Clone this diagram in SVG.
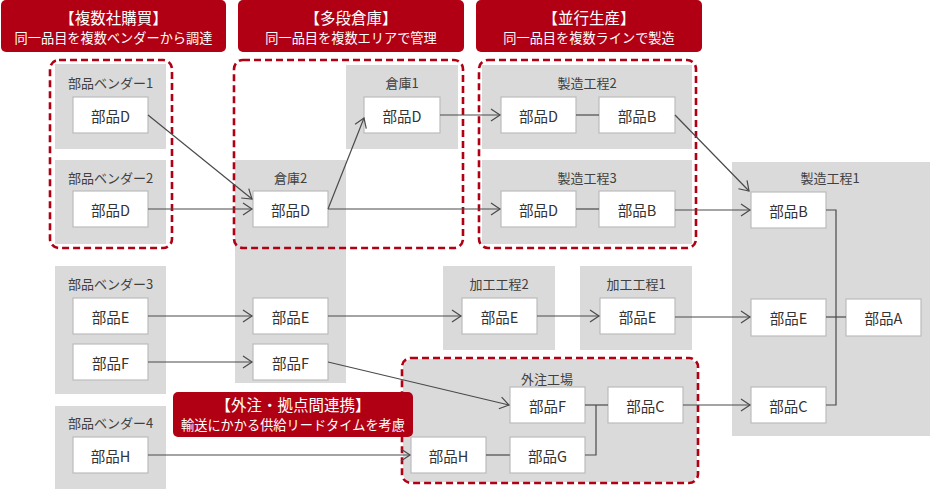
<svg xmlns="http://www.w3.org/2000/svg" width="930" height="489" viewBox="0 0 930 489">
<style>
text{font-family:"Noto Sans CJK JP","Noto Sans",sans-serif;dominant-baseline:central;text-anchor:middle}
.grp{fill:#dadada}
.box{fill:#ffffff;stroke:#bcbcbc;stroke-width:1.2}
.lbl{font-size:14.5px;fill:#333333}
.ttl{font-size:13px;fill:#404040}
.dash{fill:none;stroke:#b10013;stroke-width:2.6;stroke-dasharray:7 4}
.call{fill:#b10013}
.c1{font-size:15.5px;fill:#ffffff}
.c2{font-size:13.2px;fill:#ffffff}
.ln{fill:none;stroke:#4a4a4a;stroke-width:1.2}
.ar{marker-end:url(#arr)}
</style>
<defs>
<marker id="arr" markerUnits="userSpaceOnUse" markerWidth="14" markerHeight="14" refX="11" refY="7" orient="auto">
<path d="M2,1 L11,7 L2,13" fill="none" stroke="#4a4a4a" stroke-width="1.2"/>
</marker>
</defs>

<!-- group backgrounds -->
<g id="vendor1"><rect class="grp" x="55" y="64" width="111" height="85"/><text class="ttl" x="110.5" y="82">部品ベンダー1</text>
<rect class="box" x="73" y="97" width="75" height="36"/><text class="lbl" x="110.5" y="115">部品D</text></g>
<g id="vendor2"><rect class="grp" x="55" y="160" width="111" height="84"/><text class="ttl" x="110.5" y="177">部品ベンダー2</text>
<rect class="box" x="73" y="191" width="75" height="36"/><text class="lbl" x="110.5" y="209">部品D</text></g>
<g id="vendor3"><rect class="grp" x="55" y="266" width="111" height="128"/><text class="ttl" x="110.5" y="283">部品ベンダー3</text>
<rect class="box" x="73" y="298" width="75" height="36"/><text class="lbl" x="110.5" y="316">部品E</text>
<rect class="box" x="73" y="344" width="75" height="36"/><text class="lbl" x="110.5" y="362">部品F</text></g>
<g id="vendor4"><rect class="grp" x="55" y="406" width="111" height="83"/><text class="ttl" x="110.5" y="422">部品ベンダー4</text>
<rect class="box" x="73" y="437" width="75" height="36"/><text class="lbl" x="110.5" y="455">部品H</text></g>

<g id="warehouse2"><rect class="grp" x="235" y="160" width="111" height="223"/><text class="ttl" x="290.5" y="177">倉庫2</text>
<rect class="box" x="253" y="191" width="75" height="36"/><text class="lbl" x="290.5" y="209">部品D</text>
<rect class="box" x="253" y="298" width="75" height="36"/><text class="lbl" x="290.5" y="316">部品E</text>
<rect class="box" x="253" y="344" width="75" height="36"/><text class="lbl" x="290.5" y="362">部品F</text></g>

<g id="warehouse1"><rect class="grp" x="346" y="65" width="112" height="84"/><text class="ttl" x="402" y="82">倉庫1</text>
<rect class="box" x="364" y="97" width="76" height="36"/><text class="lbl" x="402" y="115">部品D</text></g>

<g id="mfg2"><rect class="grp" x="482" y="65" width="210" height="84"/><text class="ttl" x="587" y="82">製造工程2</text>
<rect class="box" x="501" y="97" width="75" height="36"/><text class="lbl" x="538.5" y="115">部品D</text>
<rect class="box" x="599" y="97" width="76" height="36"/><text class="lbl" x="637" y="115">部品B</text></g>
<g id="mfg3"><rect class="grp" x="482" y="160" width="210" height="84"/><text class="ttl" x="587" y="177">製造工程3</text>
<rect class="box" x="501" y="191" width="75" height="36"/><text class="lbl" x="538.5" y="209">部品D</text>
<rect class="box" x="599" y="191" width="76" height="36"/><text class="lbl" x="637" y="209">部品B</text></g>

<g id="proc2"><rect class="grp" x="443" y="266" width="112" height="84"/><text class="ttl" x="499" y="283">加工工程2</text>
<rect class="box" x="462" y="298" width="75" height="36"/><text class="lbl" x="499.5" y="316">部品E</text></g>
<g id="proc1"><rect class="grp" x="580" y="266" width="112" height="84"/><text class="ttl" x="636" y="283">加工工程1</text>
<rect class="box" x="600" y="298" width="75" height="36"/><text class="lbl" x="637.5" y="316">部品E</text></g>

<g id="mfg1"><rect class="grp" x="732" y="162" width="198" height="274"/><text class="ttl" x="830" y="177">製造工程1</text>
<rect class="box" x="751" y="192" width="75" height="36"/><text class="lbl" x="788.5" y="210">部品B</text>
<rect class="box" x="751" y="299" width="75" height="37"/><text class="lbl" x="788.5" y="317.5">部品E</text>
<rect class="box" x="751" y="387" width="75" height="36"/><text class="lbl" x="788.5" y="405">部品C</text>
<rect class="box" x="846" y="299" width="75" height="37"/><text class="lbl" x="883.5" y="317.5">部品A</text></g>

<g id="outsource"><rect class="grp" x="403" y="359" width="294" height="123" rx="9"/><text class="ttl" x="547" y="378">外注工場</text>
<rect class="box" x="510" y="387" width="75" height="36"/><text class="lbl" x="547.5" y="405">部品F</text>
<rect class="box" x="608" y="387" width="75" height="36"/><text class="lbl" x="645.5" y="405">部品C</text>
<rect class="box" x="411" y="437" width="75" height="36"/><text class="lbl" x="448.5" y="455">部品H</text>
<rect class="box" x="510" y="437" width="75" height="36"/><text class="lbl" x="547.5" y="455">部品G</text></g>

<!-- dashed highlight frames -->
<g id="frames">
<rect class="dash" x="50" y="60" width="122" height="188" rx="9"/>
<rect class="dash" x="234" y="60" width="229" height="188" rx="9"/>
<rect class="dash" x="479" y="60" width="217" height="188" rx="9"/>
<rect class="dash" x="402" y="358" width="296" height="125" rx="9"/>
</g>

<!-- connectors -->
<g id="connectors">
<line class="ln ar" x1="148" y1="115" x2="252" y2="199"/>
<line class="ln ar" x1="148" y1="209" x2="252" y2="209"/>
<line class="ln ar" x1="328" y1="209" x2="364" y2="118"/>
<line class="ln ar" x1="328" y1="209" x2="500" y2="209"/>
<line class="ln ar" x1="440" y1="115" x2="500" y2="115"/>
<line class="ln" x1="576" y1="115" x2="599" y2="115"/>
<line class="ln" x1="576" y1="209" x2="599" y2="209"/>
<line class="ln ar" x1="675" y1="115" x2="749" y2="191"/>
<line class="ln ar" x1="675" y1="210" x2="750" y2="210"/>
<line class="ln ar" x1="148" y1="316" x2="252" y2="316"/>
<line class="ln ar" x1="148" y1="362" x2="252" y2="362"/>
<line class="ln ar" x1="328" y1="316" x2="461" y2="316"/>
<line class="ln ar" x1="537" y1="316" x2="599" y2="316"/>
<line class="ln ar" x1="675" y1="317" x2="750" y2="317"/>
<line class="ln ar" x1="328" y1="362" x2="509" y2="405"/>
<line class="ln ar" x1="148" y1="455" x2="410" y2="455"/>
<line class="ln" x1="486" y1="455" x2="510" y2="455"/>
<polyline class="ln" points="585,405 608,405"/>
<polyline class="ln" points="585,455 596,455 596,405"/>
<line class="ln ar" x1="683" y1="405" x2="750" y2="405"/>
<polyline class="ln" points="826,210 836,210 836,405 826,405"/>
<line class="ln" x1="826" y1="317" x2="846" y2="317"/>
</g>

<!-- callouts -->
<g id="callout1"><rect class="call" x="1" y="0" width="225" height="52" rx="5"/>
<text class="c1" x="113.5" y="17">【複数社購買】</text><text class="c2" x="113.5" y="37">同一品目を複数ベンダーから調達</text></g>
<g id="callout2"><rect class="call" x="238" y="0" width="226" height="52" rx="5"/>
<text class="c1" x="351" y="17">【多段倉庫】</text><text class="c2" x="351" y="37">同一品目を複数エリアで管理</text></g>
<g id="callout3"><rect class="call" x="476" y="0" width="226" height="52" rx="5"/>
<text class="c1" x="589" y="17">【並行生産】</text><text class="c2" x="589" y="37">同一品目を複数ラインで製造</text></g>
<g id="callout4"><rect class="call" x="173" y="392" width="240" height="45" rx="5"/>
<text class="c1" x="293" y="404">【外注・拠点間連携】</text><text class="c2" x="293" y="424">輸送にかかる供給リードタイムを考慮</text></g>
</svg>
